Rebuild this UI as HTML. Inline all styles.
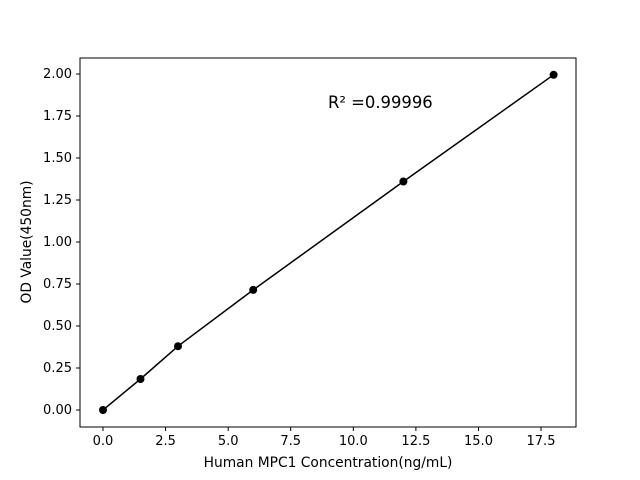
<!DOCTYPE html>
<html><head><style>body{margin:0;background:#fff}svg{display:block}text{font-family:"DejaVu Sans","Liberation Sans",sans-serif;fill:#000}</style></head>
<body>
<svg width="640" height="480" xmlns="http://www.w3.org/2000/svg">
<rect x="80" y="58" width="496" height="369" fill="none" stroke="#000" stroke-width="1"/>
<g stroke="#000" stroke-width="1">
<line x1="103" y1="427" x2="103" y2="431"/><line x1="165.6" y1="427" x2="165.6" y2="431"/><line x1="228.2" y1="427" x2="228.2" y2="431"/><line x1="290.7" y1="427" x2="290.7" y2="431"/><line x1="353.3" y1="427" x2="353.3" y2="431"/><line x1="415.9" y1="427" x2="415.9" y2="431"/><line x1="478.5" y1="427" x2="478.5" y2="431"/><line x1="541" y1="427" x2="541" y2="431"/>
<line x1="76" y1="410" x2="80" y2="410"/><line x1="76" y1="368" x2="80" y2="368"/><line x1="76" y1="326" x2="80" y2="326"/><line x1="76" y1="284" x2="80" y2="284"/><line x1="76" y1="242" x2="80" y2="242"/><line x1="76" y1="200" x2="80" y2="200"/><line x1="76" y1="158" x2="80" y2="158"/><line x1="76" y1="116" x2="80" y2="116"/><line x1="76" y1="74" x2="80" y2="74"/>
</g>
<g font-size="13" text-anchor="middle">
<text x="103" y="445">0.0</text><text x="165.6" y="445">2.5</text><text x="228.2" y="445">5.0</text><text x="290.7" y="445">7.5</text><text x="353.3" y="445">10.0</text><text x="415.9" y="445">12.5</text><text x="478.5" y="445">15.0</text><text x="541" y="445">17.5</text>
</g>
<g font-size="13" text-anchor="end">
<text x="72" y="414">0.00</text><text x="72" y="372">0.25</text><text x="72" y="330">0.50</text><text x="72" y="288">0.75</text><text x="72" y="246">1.00</text><text x="72" y="204">1.25</text><text x="72" y="162">1.50</text><text x="72" y="120">1.75</text><text x="72" y="78">2.00</text>
</g>
<text x="328" y="467" font-size="13.8" text-anchor="middle">Human MPC1 Concentration(ng/mL)</text>
<text transform="translate(31,242) rotate(-90)" font-size="13.8" text-anchor="middle">OD Value(450nm)</text>
<text x="328" y="108" font-size="16.4">R² =0.99996</text>
<polyline fill="none" stroke="#000" stroke-width="1.5" points="103,410 140.5,379 178,346.2 253.2,289.9 403.4,181.5 553.6,74.8"/>
<g fill="#000"><circle cx="103" cy="410" r="4"/><circle cx="140.5" cy="379" r="4"/><circle cx="178" cy="346.2" r="4"/><circle cx="253.2" cy="289.9" r="4"/><circle cx="403.4" cy="181.5" r="4"/><circle cx="553.6" cy="74.8" r="4"/></g>
</svg>
</body></html>
